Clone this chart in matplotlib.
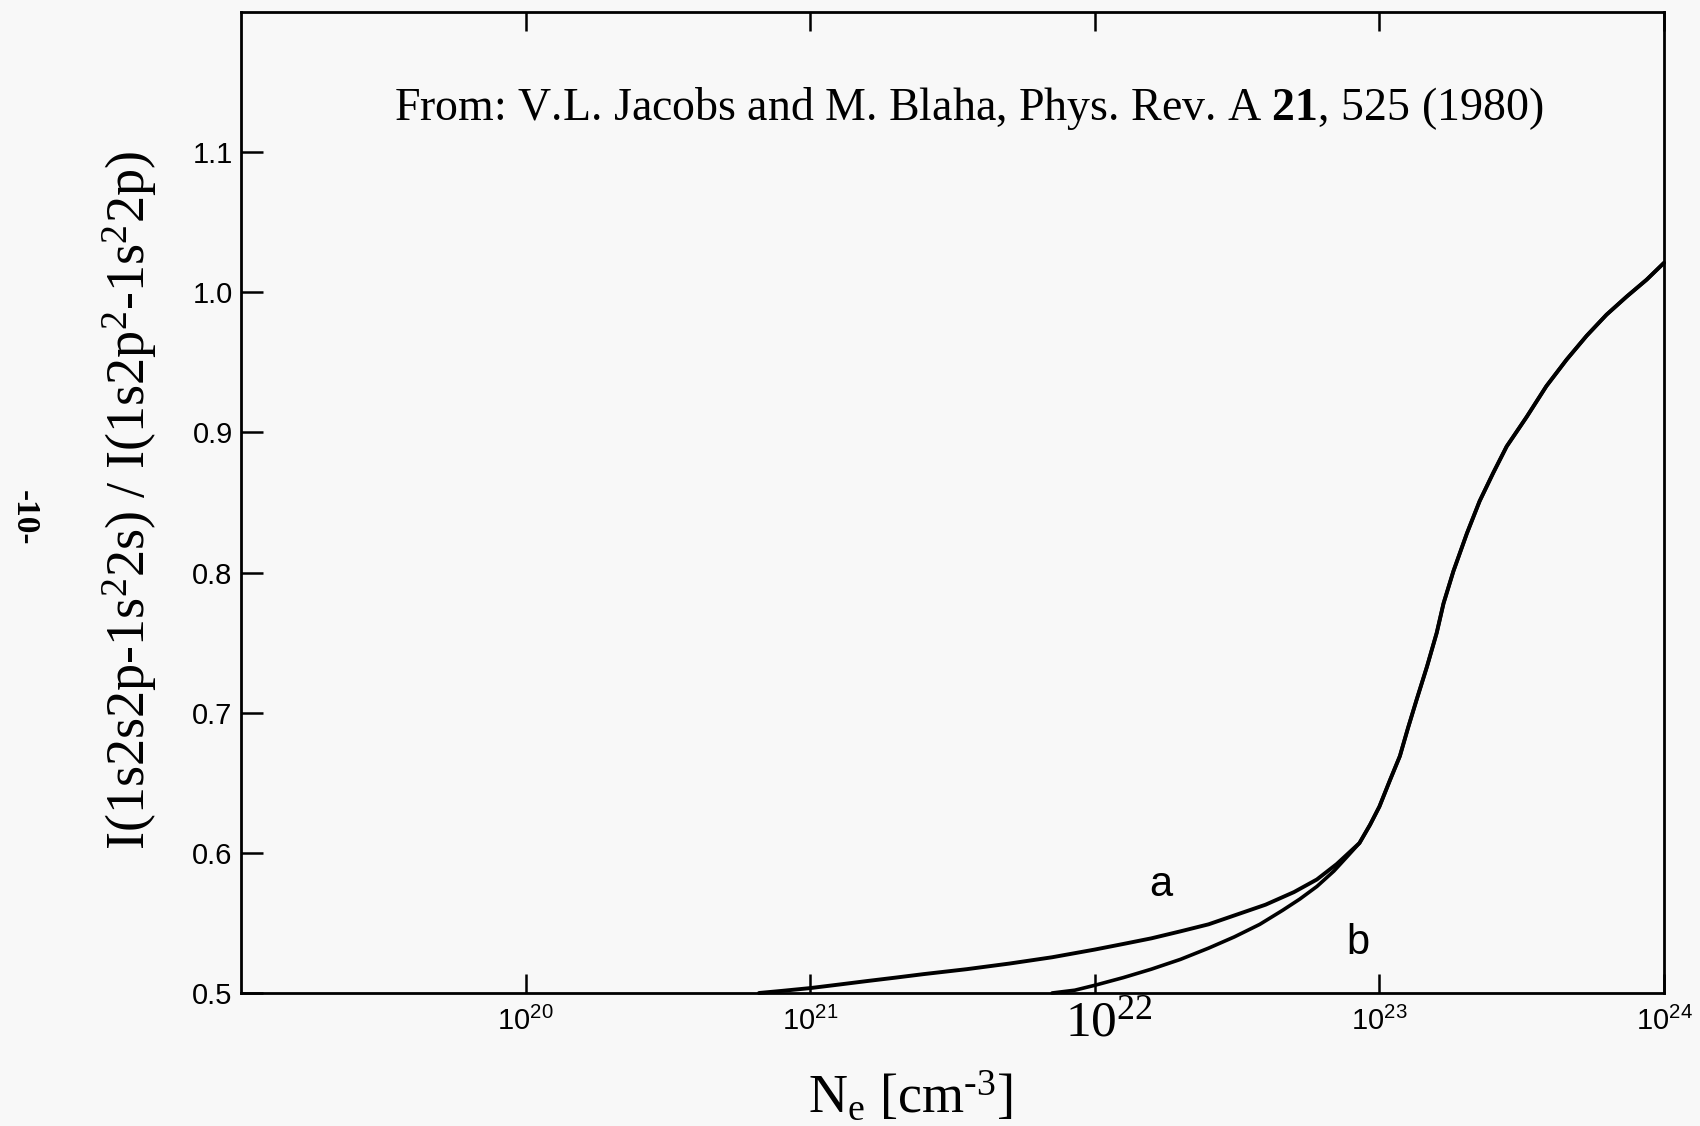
"""Line ratio vs electron density (Jacobs & Blaha 1980), redrawn from a scanned figure."""
import matplotlib
matplotlib.use("Agg")
import matplotlib.pyplot as plt
import numpy as np

# curve a, lower branch (cm^-3, ratio)
ne_a = [6.61e20, 7.94e20, 1.0e21, 1.26e21, 1.58e21, 2.0e21, 2.51e21, 3.55e21, 5.01e21,
        7.08e21, 1.0e22, 1.26e22, 1.58e22, 2.0e22, 2.51e22, 3.16e22, 3.98e22,
        5.01e22, 6.03e22, 7.08e22, 8.51e22]
ratio_a = [0.500, 0.5015, 0.5035, 0.506, 0.5085, 0.511, 0.5135, 0.517, 0.521,
           0.5255, 0.531, 0.535, 0.539, 0.544, 0.549, 0.556, 0.563,
           0.572, 0.581, 0.592, 0.607]

# curve b, lower branch
ne_b = [7.08e21, 8.51e21, 1.0e22, 1.26e22, 1.58e22, 2.0e22, 2.51e22, 3.09e22,
        3.8e22, 4.57e22, 5.25e22, 6.03e22, 6.92e22, 7.76e22, 8.51e22]
ratio_b = [0.500, 0.502, 0.5055, 0.511, 0.517, 0.524, 0.532, 0.540,
           0.549, 0.559, 0.567, 0.576, 0.587, 0.598, 0.607]

# shared high-density branch
ne_hi = [9.27e22, 1.0e23, 1.09e23, 1.18e23, 1.26e23, 1.35e23, 1.47e23, 1.59e23,
         1.68e23, 1.82e23, 2.03e23, 2.25e23, 2.51e23, 2.80e23, 3.29e23, 3.86e23,
         4.55e23, 5.35e23, 6.28e23, 7.40e23, 8.69e23, 1.0e24]
ratio_hi = [0.620, 0.633, 0.652, 0.669, 0.689, 0.709, 0.733, 0.757,
            0.778, 0.801, 0.828, 0.851, 0.871, 0.890, 0.911, 0.933,
            0.952, 0.969, 0.984, 0.997, 1.009, 1.021]

x_ticks = [1e20, 1e21, 1e22, 1e23, 1e24]
x_labels = [r"$\mathsf{10^{20}}$", r"$\mathsf{10^{21}}$", "",
            r"$\mathsf{10^{23}}$", r"$\mathsf{10^{24}}$"]
big_tick = 1e22
big_tick_label = r"$\mathrm{10^{22}}$"
y_ticks = [0.5, 0.6, 0.7, 0.8, 0.9, 1.0, 1.1]
y_labels = ["0.5", "0.6", "0.7", "0.8", "0.9", "1.0", "1.1"]

label_a = (1.7e22, 0.577)
label_b = (8.4e22, 0.536)

SERIF = "Liberation Serif"
SANS = "Liberation Sans"
BG = "#f8f8f8"

plt.rcParams["mathtext.fontset"] = "custom"
plt.rcParams["mathtext.rm"] = SERIF
plt.rcParams["mathtext.it"] = SERIF + ":italic"
plt.rcParams["mathtext.bf"] = SERIF + ":bold"
plt.rcParams["mathtext.sf"] = SANS

fig = plt.figure(figsize=(17, 11.26), dpi=100, facecolor=BG)
ax = fig.add_axes([241 / 1700, 133 / 1126, 1423 / 1700, 981 / 1126], facecolor=BG)

x_a = np.concatenate([ne_a, ne_hi])
y_a = np.concatenate([ratio_a, ratio_hi])
x_b = np.concatenate([ne_b, ne_hi])
y_b = np.concatenate([ratio_b, ratio_hi])
ax.plot(x_a, y_a, color="black", lw=2.8, clip_on=False, solid_capstyle="round",
        solid_joinstyle="round")
ax.plot(x_b, y_b, color="black", lw=2.6, clip_on=False, solid_capstyle="round",
        solid_joinstyle="round")

ax.set_xscale("log")
ax.set_xlim(1e19, 1e24)
ax.set_ylim(0.5, 1.2)
ax.minorticks_off()
ax.set_xticks(x_ticks, x_labels)
ax.set_yticks(y_ticks, y_labels)

for side in ["left", "right", "top", "bottom"]:
    ax.spines[side].set_linewidth(2.0)

ax.tick_params(axis="x", which="major", direction="in", length=14, width=1.8,
               top=True, labelsize=21, pad=10)
ax.tick_params(axis="y", which="major", direction="in", length=16, width=1.8,
               right=False, labelsize=21, pad=6)
for lab in ax.get_yticklabels():
    lab.set_fontfamily(SANS)

# the 10^22 label is set larger and in serif in the original
ax.annotate(big_tick_label, xy=(big_tick, 0), xycoords=("data", "axes fraction"),
            xytext=(10, -5), textcoords="offset points", ha="center", va="top",
            fontsize=37, family=SERIF)

ax.text(*label_a, "a", fontsize=30, family=SANS, ha="center", va="center")
ax.text(*label_b, "b", fontsize=30, family=SANS, ha="center", va="center")

fig.text(394 / 1700, 1 - 120 / 1126,
         r"From: V.L. Jacobs and M. Blaha, Phys. Rev. A $\mathbf{21}$, 525 (1980)",
         fontsize=33, family=SERIF, ha="left", va="baseline")

fig.text(130 / 1700, 1 - 501 / 1126,
         r"I(1s2s2p-1s$^2$2s) / I(1s2p$^2$-1s$^2$2p)",
         fontsize=39, family=SERIF, rotation=90, ha="center", va="center")

fig.text(910 / 1700, 1 - 1113 / 1126, r"N$_{\mathrm{e}}$ [cm$^{\text{-3}}$]",
         fontsize=39, family=SERIF, ha="center", va="baseline")

fig.text(24 / 1700, 1 - 518 / 1126, "-10-", fontsize=24, family=SERIF,
         fontweight="bold", rotation=270, ha="center", va="center")

fig.savefig("out.png", dpi=100, facecolor=BG)
